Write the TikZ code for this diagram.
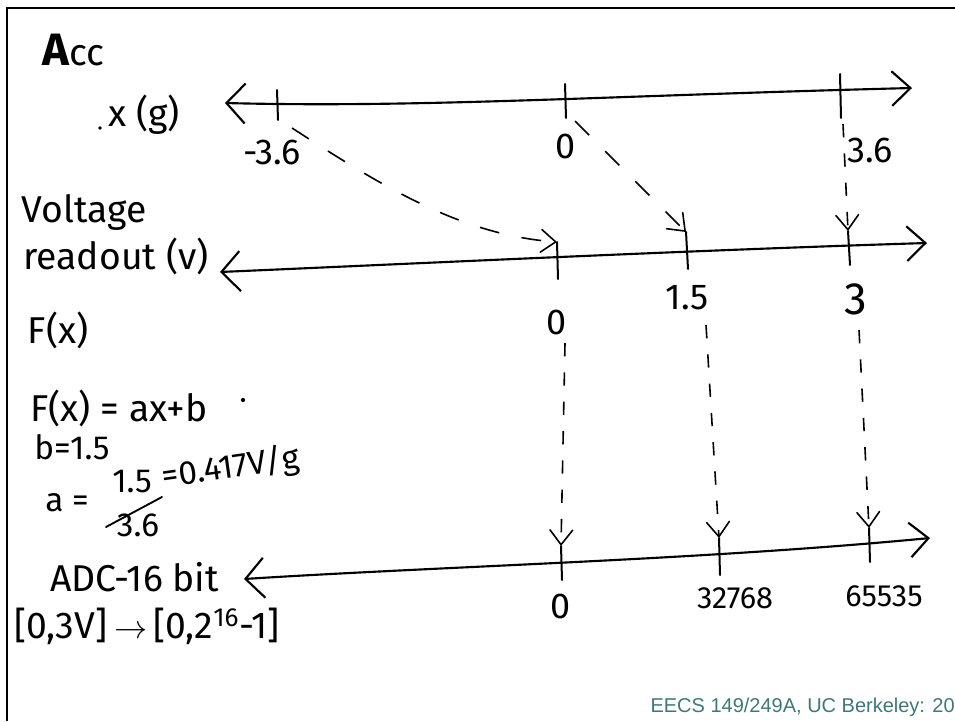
\documentclass[tikz,border=0pt]{standalone}
\usepackage{fontspec}
\setmainfont{Liberation Sans}
\newfontfamily\hand{Fira Sans}
\usetikzlibrary{arrows.meta}
\definecolor{footer}{HTML}{3E7878}
\begin{document}
\begin{tikzpicture}[x=0.75pt,y=-0.75pt,
  axis/.style={line width=1.6pt, line cap=round,
    arrows={Straight Barb[length=14pt,width=30pt]-Straight Barb[length=14pt,width=26pt]}},
  tickmark/.style={line width=1.5pt, line cap=round},
  dasharrow/.style={line width=1.2pt, dash pattern=on 15pt off 17pt,
    -{Straight Barb[length=11pt,width=17pt,line cap=round]}},
  vdasharrow/.style={dasharrow, dash pattern=on 10pt off 12pt},
  lbl/.style={font=\hand\fontsize{27}{30}\selectfont, inner sep=0pt},
  txt/.style={font=\hand\fontsize{28}{32}\selectfont, inner sep=0pt},
  stxt/.style={font=\hand\fontsize{25}{28}\selectfont, inner sep=0pt}]
\useasboundingbox (0,0) rectangle (955,721);
% frame
\draw[line width=2.2pt] (955,8) -- (7,8) -- (7,721);

% ---------- axis 1 : x (g)
\coordinate (a1L) at (225,103);
\coordinate (a1R) at (912,88);
\draw[axis] (a1L) .. controls (420,108) and (600,96) .. (a1R);
\coordinate (t1aT) at (277,90);  \coordinate (t1aB) at (278,120);
\coordinate (t1bT) at (565,84);  \coordinate (t1bB) at (566,118);
\coordinate (t1cT) at (840,74);  \coordinate (t1cB) at (841,118);
\draw[tickmark] (t1aT) -- (t1aB);
\draw[tickmark] (t1bT) -- (t1bB);
\draw[tickmark] (t1cT) -- (t1cB);
\node[lbl] (l1a) at (272,152) {-3.6};
\node[lbl] (l1b) at (566,146) {0};
\node[lbl] (l1c) at (870,150) {3.6};

% ---------- axis 2 : voltage readout
\coordinate (a2L) at (220,272);
\coordinate (a2R) at (927,243);
\draw[axis] (a2L) .. controls (450,262) and (700,250) .. (a2R);
\coordinate (t2aT) at (557,242); \coordinate (t2aB) at (558,279);
\coordinate (t2bT) at (686,232); \coordinate (t2bB) at (688,269);
\coordinate (t2cT) at (848,231); \coordinate (t2cB) at (850,265);
\draw[tickmark] (t2aT) -- (t2aB);
\draw[tickmark] (t2bT) -- (t2bB);
\draw[tickmark] (t2cT) -- (t2cB);
\node[lbl] (l2a) at (557,322) {0};
\node[lbl] (l2b) at (687,298) {1.5};
\node[lbl,font=\hand\fontsize{34}{36}\selectfont] (l2c) at (856,299) {3};

% ---------- axis 3 : ADC
\coordinate (a3L) at (244,579);
\coordinate (a3R) at (930,538);
\draw[axis] (a3L) .. controls (450,566) and (700,560) .. (a3R);
\coordinate (t3aT) at (561,546); \coordinate (t3aB) at (562,580);
\coordinate (t3bT) at (719,538); \coordinate (t3bB) at (720,575);
\coordinate (t3cT) at (869,528); \coordinate (t3cB) at (870,562);
\draw[tickmark] (t3aT) -- (t3aB);
\draw[tickmark] (t3bT) -- (t3bB);
\draw[tickmark] (t3cT) -- (t3cB);
\node[lbl] (l3a) at (561,606) {0};
\node[lbl,font=\hand\fontsize{23}{26}\selectfont] (l3b) at (735,598) {32768};
\node[lbl,font=\hand\fontsize{23}{26}\selectfont] (l3c) at (884,596) {65535};

% ---------- dashed mapping arrows
\coordinate (s1) at (292,128);
\coordinate (s2) at (575,121);
\coordinate (s3) at (843,124);
\draw[dasharrow] (s1) .. controls (380,185) and (460,235) .. (t2aT);
\draw[dasharrow] (s2) -- (t2bT);
\draw[vdasharrow] (s3) -- (t2cT);
\coordinate (s4) at (565,343);
\coordinate (s5) at (706,325);
\coordinate (s6) at (859,330);
\draw[vdasharrow] (s4) -- (t3aT);
\draw[vdasharrow] (s5) -- (t3bT);
\draw[vdasharrow] (s6) -- (t3cT);

% ---------- left-hand notes
\node[txt, anchor=base west] (acc) at (42,65) {{\bfseries\fontsize{34}{36}\selectfont A}cc};
\node[txt, anchor=base west] (xg) at (108,126) {x (g)};
\fill (100,128) circle (1.4pt);
\node[txt] (volt) at (84,212) {Voltage};
\node[txt] (read) at (116,256) {readout (v)};
\node[txt] (fx) at (58,330) {F(x)};
\node[txt, anchor=west] (feq) at (30,408) {F(x) = ax+b};
\fill (243,400) circle (1.6pt);
\node[stxt, anchor=west] (beq) at (34,447) {b=1.5};
\node[stxt, anchor=west] (aeq) at (45,503) {a =};
\node[stxt] (num) at (132,482) {1.5};
\draw[line width=1.4pt, line cap=round] (106,527) -- (162,497);
\node[stxt] (den) at (138,525) {3.6};
\node[stxt, anchor=west, rotate=8] (aval) at (162,478) {=0.417V/g};
\node[txt, anchor=west] (adc) at (50,577) {ADC-16 bit};
\node[txt, anchor=west] (rng) at (14,626) {[0,3V]\,$\rightarrow$\,[0,2\textsuperscript{16}-1]};

% ---------- footer
\node[anchor=east, inner sep=0pt, text=footer, font=\fontsize{15}{18}\selectfont] (foot) at (955,707) {EECS 149/249A, UC Berkeley: 20};
\end{tikzpicture}
\end{document}
